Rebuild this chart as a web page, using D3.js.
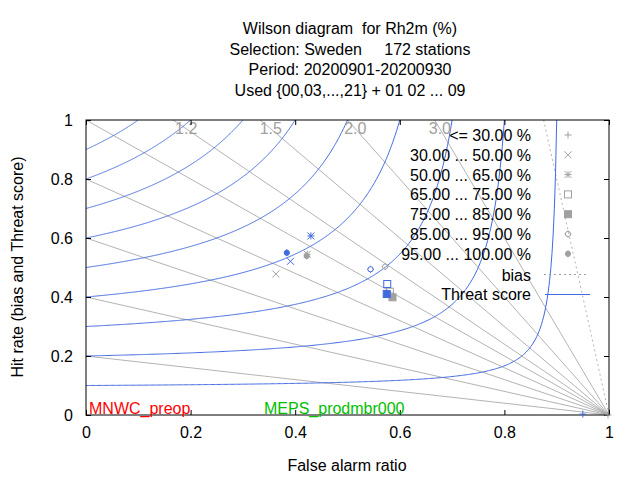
<!DOCTYPE html>
<html>
<head>
<meta charset="utf-8">
<script src="https://cdn.jsdelivr.net/npm/d3@7"></script>
<style>
  body { margin: 0; background: #fff; }
  text { font-family: "Liberation Sans", Arial, sans-serif; white-space: pre; }
</style>
</head>
<body>
<svg width="640" height="480"></svg>
<script>
// classes of the threshold
const classes = ['<= 30.00 %', '30.00 ... 50.00 %', '50.00 ... 65.00 %', '65.00 ... 75.00 %',
  '75.00 ... 85.00 %', '85.00 ... 95.00 %', '95.00 ... 100.00 %'];
const symbols = ['plus', 'cross', 'star', 'box', 'fbox', 'circle', 'fcircle'];

// false alarm ratio / hit rate for each class
const mnwcFar = [0.950, 0.391, 0.430, 0.576, 0.575, 0.544, 0.384];
const mnwcHit = [0.003, 0.521, 0.607, 0.444, 0.410, 0.494, 0.550];
const mepsFar = [0.998, 0.363, 0.423, 0.581, 0.586, 0.572, 0.422];
const mepsHit = [0.000, 0.478, 0.545, 0.418, 0.399, 0.503, 0.539];

const biasValues = [0.2, 0.4, 0.6, 0.8, 1.0, 1.2, 1.5, 2.0, 3.0];
const biasLabels = ['1.2', '1.5', '2.0', '3.0'];
const biasDotted = [8.0];
const tsValues = [0.1, 0.2, 0.3, 0.4, 0.5, 0.6, 0.7, 0.8, 0.9];
const ticks = [0, 0.2, 0.4, 0.6, 0.8, 1];

const titleLines = ['Wilson diagram  for Rh2m (%)', 'Selection: Sweden     172 stations',
  'Period: 20200901-20200930', 'Used {00,03,...,21} + 01 02 ... 09'];

const blue = '#4169e1', grey = '#a0a0a0';
const fs = 16;

const svg = d3.select('svg');
const x = d3.scaleLinear().domain([0, 1]).range([86, 609]);
const y = d3.scaleLinear().domain([0, 1]).range([415, 120]);

svg.append('clipPath').attr('id', 'clip')
  .append('rect').attr('x', 86).attr('y', 120).attr('width', 523).attr('height', 295);

const plot = svg.append('g').attr('clip-path', 'url(#clip)');

// bias lines
plot.selectAll('.bias').data(biasValues).enter()
  .append('line')
  .attr('x1', x(0)).attr('y1', b => y(b))
  .attr('x2', x(1)).attr('y2', y(0))
  .attr('stroke', grey).attr('stroke-width', 0.8);

plot.selectAll('.biasdot').data(biasDotted).enter()
  .append('line')
  .attr('x1', x(0)).attr('y1', b => y(b))
  .attr('x2', x(1)).attr('y2', y(0))
  .attr('stroke', grey).attr('stroke-width', 0.8)
  .attr('stroke-dasharray', '2,3');

// threat score curves
const tsLine = d3.line().x(d => x(d[0])).y(d => y(d[1]));
tsValues.forEach(ts => {
  const fmax = 1 - ts;
  const pts = d3.range(0, fmax, fmax / 400).concat([fmax])
    .map(f => [f, 1 / (1 / ts + 1 - 1 / (1 - f))]);
  plot.append('path').attr('d', tsLine(pts))
    .attr('fill', 'none').attr('stroke', blue).attr('stroke-width', 1);
});

// bias labels at the top
svg.selectAll('.blab').data(biasLabels).enter()
  .append('text')
  .attr('x', d => x(1 - 0.97 / +d))
  .attr('y', 134)
  .attr('text-anchor', 'middle')
  .attr('font-size', fs)
  .attr('fill', grey)
  .text(d => d);

// frame
svg.append('rect').attr('x', 86).attr('y', 120).attr('width', 523).attr('height', 295)
  .attr('fill', 'none').attr('stroke', '#000').attr('stroke-width', 1);

// axes with mirrored inward ticks
const fmt = d => d === 0 || d === 1 ? String(d) : d3.format('.1f')(d);
svg.append('g').attr('transform', 'translate(0,415)')
  .call(d3.axisBottom(x).tickValues(ticks).tickFormat(fmt).tickSizeInner(-5).tickSizeOuter(0).tickPadding(12));
svg.append('g').attr('transform', 'translate(0,120)')
  .call(d3.axisTop(x).tickValues(ticks).tickFormat('').tickSizeInner(-5).tickSizeOuter(0));
svg.append('g').attr('transform', 'translate(86,0)')
  .call(d3.axisLeft(y).tickValues(ticks).tickFormat(fmt).tickSizeInner(-5).tickSizeOuter(0).tickPadding(13));
svg.append('g').attr('transform', 'translate(609,0)')
  .call(d3.axisRight(y).tickValues(ticks).tickFormat('').tickSizeInner(-5).tickSizeOuter(0));
svg.selectAll('.domain').remove();
svg.selectAll('.tick text').attr('font-size', fs).attr('font-family', '"Liberation Sans", Arial, sans-serif').attr('fill', '#000');
svg.selectAll('.tick line').attr('stroke', '#000');

// marker drawing
function marker(g, kind, cx, cy, col) {
  const s = 3.5;
  const st = { stroke: col, 'stroke-width': 1, fill: 'none' };
  const add = (tag, attrs) => {
    const e = g.append(tag);
    Object.entries(Object.assign({}, st, attrs)).forEach(([k, v]) => e.attr(k, v));
  };
  if (kind === 'plus' || kind === 'star') {
    add('path', { d: `M${cx - s},${cy}H${cx + s}M${cx},${cy - s}V${cy + s}` });
  }
  if (kind === 'cross' || kind === 'star') {
    add('path', { d: `M${cx - s},${cy - s}L${cx + s},${cy + s}M${cx - s},${cy + s}L${cx + s},${cy - s}` });
  }
  if (kind === 'box') add('rect', { x: cx - s, y: cy - s, width: 2 * s, height: 2 * s });
  if (kind === 'fbox') add('rect', { x: cx - s, y: cy - s, width: 2 * s, height: 2 * s, fill: col });
  if (kind === 'circle') {
    add('circle', { cx: cx, cy: cy, r: 2.6 });
    add('path', { d: `M${cx - s},${cy}H${cx - 2.6}M${cx + 2.6},${cy}H${cx + s}M${cx},${cy - s}V${cy - 2.6}M${cx},${cy + 2.6}V${cy + s}` });
  }
  if (kind === 'fcircle') {
    add('circle', { cx: cx, cy: cy, r: 2.6, fill: col });
    add('path', { d: `M${cx},${cy - s}V${cy + s}` });
  }
}

const pts = svg.append('g');
mepsFar.forEach((f, i) => marker(pts, symbols[i], x(f), y(mepsHit[i]), grey));
mnwcFar.forEach((f, i) => marker(pts, symbols[i], x(f), y(mnwcHit[i]), blue));

// legend
const leg = svg.append('g');
classes.forEach((c, i) => {
  const yy = 135 + i * 19.8;
  leg.append('text').attr('x', 531).attr('y', yy + 6).attr('text-anchor', 'end')
    .attr('font-size', fs).text(c);
  marker(leg, symbols[i], 568, yy, grey);
});
leg.append('text').attr('x', 531).attr('y', 280.5).attr('text-anchor', 'end').attr('font-size', fs).text('bias');
leg.append('line').attr('x1', 544).attr('x2', 587).attr('y1', 274.5).attr('y2', 274.5)
  .attr('stroke', grey).attr('stroke-dasharray', '2,3');
leg.append('text').attr('x', 531).attr('y', 300).attr('text-anchor', 'end').attr('font-size', fs).text('Threat score');
leg.append('line').attr('x1', 545).attr('x2', 590).attr('y1', 294.5).attr('y2', 294.5)
  .attr('stroke', blue);

// experiment names
svg.append('text').attr('x', 89).attr('y', 414).attr('font-size', fs).attr('fill', '#ff0000').text('MNWC_preop');
svg.append('text').attr('x', 264).attr('y', 414).attr('font-size', fs).attr('fill', '#00c000').text('MEPS_prodmbr000');

// titles
svg.selectAll('.title').data(titleLines).enter()
  .append('text')
  .attr('x', 350).attr('y', (d, i) => 34 + i * 20.7)
  .attr('text-anchor', 'middle').attr('font-size', fs)
  .text(d => d);

svg.append('text').attr('x', 347).attr('y', 471).attr('text-anchor', 'middle')
  .attr('font-size', fs).text('False alarm ratio');
svg.append('text').attr('transform', 'translate(23,267) rotate(-90)')
  .attr('text-anchor', 'middle').attr('font-size', fs).text('Hit rate (bias and Threat score)');
</script>
</body>
</html>
